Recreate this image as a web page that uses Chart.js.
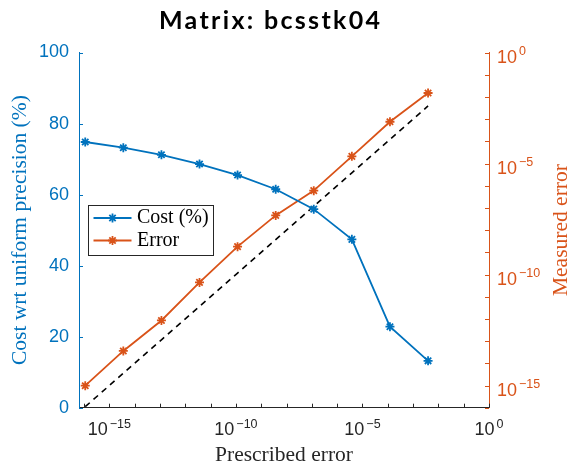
<!DOCTYPE html>
<html>
<head>
<meta charset="utf-8">
<title>Matrix: bcsstk04</title>
<script src="https://cdn.jsdelivr.net/npm/chart.js@4/dist/chart.umd.min.js"></script>
<style>
    html, body { margin: 0; padding: 0; background: #fff; }
    #wrap { width: 570px; height: 465px; }
</style>
</head>
<body>
<div id="wrap"><canvas id="myChart" width="570" height="465"></canvas></div>
<script>
(function () {
    'use strict';

    // prescribed error (x), powers of two from 2^-53 to 2^-8
    var prescribedError = [1.11e-16, 3.55e-15, 1.14e-13, 3.64e-12, 1.16e-10, 3.73e-9, 1.19e-7, 3.81e-6, 1.22e-4, 3.91e-3];
    var costPercent = [74.8, 73.2, 71.2, 68.6, 65.5, 61.5, 55.9, 47.4, 22.8, 13.2];
    var measuredError = [9.8e-16, 3.6e-14, 8.5e-13, 4.4e-11, 1.8e-9, 4.6e-8, 6.0e-7, 2.1e-5, 7.6e-4, 1.5e-2];

    var costTicks = [0, 20, 40, 60, 80, 100];
    var decadeTicks = [-16, -15, -14, -13, -12, -11, -10, -9, -8, -7, -6, -5, -4, -3, -2, -1, 0];
    var labeledDecades = [-15, -10, -5, 0];

    var BLUE = '#0072BD';
    var ORANGE = '#D95319';
    var AXIS = '#262626';
    var SERIF = '"Liberation Serif", "Times New Roman", serif';
    var SANS = '"Liberation Sans", Arial, sans-serif';

    function points(xs, ys) {
        return xs.map(function (x, i) {
            return { x: x, y: ys[i] };
        });
    }

    function decades() {
        return decadeTicks.map(function (e) {
            return { value: Math.pow(10, e) };
        });
    }

    function drawPower(ctx, exp, x, y, align, color) {
        ctx.fillStyle = color;
        ctx.textBaseline = 'alphabetic';
        ctx.textAlign = 'left';
        ctx.font = '18px ' + SANS;
        var w1 = ctx.measureText('10').width;
        var sup = (exp < 0 ? '\u2212' : '') + Math.abs(exp);
        ctx.font = '12.5px ' + SANS;
        var w2 = ctx.measureText(sup).width;
        var left = align === 'center' ? x - (w1 + 2 + w2) / 2 : x;
        ctx.font = '18px ' + SANS;
        ctx.fillText('10', left, y);
        ctx.font = '12.5px ' + SANS;
        ctx.fillText(sup, left + w1 + 2, y - 7.5);
    }

    var decorPlugin = {
        id: 'decor',
        afterDraw: function (chart) {
            var ctx = chart.ctx;
            var area = chart.chartArea;
            var xs = chart.scales.x;
            var yl = chart.scales.y;
            var yr = chart.scales.y2;

            ctx.save();
            ctx.lineWidth = 1;

            // inward tick marks
            ctx.strokeStyle = BLUE;
            costTicks.forEach(function (v) {
                var py = Math.round(yl.getPixelForValue(v)) + 0.5;
                ctx.beginPath();
                ctx.moveTo(area.left, py);
                ctx.lineTo(area.left + 4, py);
                ctx.stroke();
            });
            ctx.strokeStyle = AXIS;
            decadeTicks.forEach(function (e) {
                var px = Math.round(xs.getPixelForValue(Math.pow(10, e))) + 0.5;
                ctx.beginPath();
                ctx.moveTo(px, area.bottom);
                ctx.lineTo(px, area.bottom - 4);
                ctx.stroke();
            });
            ctx.strokeStyle = ORANGE;
            decadeTicks.forEach(function (e) {
                var py = Math.round(yr.getPixelForValue(Math.pow(10, e))) + 0.5;
                ctx.beginPath();
                ctx.moveTo(area.right, py);
                ctx.lineTo(area.right - 4, py);
                ctx.stroke();
            });

            // log tick labels with superscripts
            labeledDecades.forEach(function (e) {
                var px = xs.getPixelForValue(Math.pow(10, e));
                drawPower(ctx, e, px, area.bottom + 27.5, 'center', AXIS);
                var py = yr.getPixelForValue(Math.pow(10, e));
                drawPower(ctx, e, area.right + 8, py + 10, 'left', ORANGE);
            });

            // title, spaced out to the width of the original
            var title = 'Matrix: bcsstk04';
            ctx.fillStyle = '#000';
            ctx.font = 'bold 25px Lato, ' + SANS;
            ctx.textAlign = 'left';
            ctx.textBaseline = 'alphabetic';
            var tw = ctx.measureText(title).width;
            var spacing = Math.max(0, (221 - tw) / (title.length - 1));
            if ('letterSpacing' in ctx) {
                ctx.letterSpacing = spacing + 'px';
            }
            ctx.fillText(title, 159, 28.5);
            if ('letterSpacing' in ctx) {
                ctx.letterSpacing = '0px';
            }

            // right axis title
            ctx.save();
            ctx.translate(561, (area.top + area.bottom) / 2);
            ctx.rotate(-Math.PI / 2);
            ctx.fillStyle = ORANGE;
            ctx.font = '21.5px ' + SERIF;
            ctx.textAlign = 'center';
            ctx.textBaseline = 'middle';
            ctx.fillText('Measured error', 0, 0);
            ctx.restore();

            // legend box
            var lx = area.left + 9.5;
            var ly = 205.5;
            ctx.fillStyle = '#fff';
            ctx.fillRect(lx, ly, 125, 50);
            ctx.strokeStyle = AXIS;
            ctx.lineWidth = 1;
            ctx.strokeRect(lx, ly, 125, 50);

            chart.data.datasets.slice(0, 2).forEach(function (ds, i) {
                var ry = ly + 12.5 + i * 22.5;
                ctx.strokeStyle = ds.borderColor;
                ctx.fillStyle = ds.borderColor;
                ctx.lineWidth = ds.borderWidth;
                ctx.setLineDash([]);
                ctx.beginPath();
                ctx.moveTo(lx + 5, ry);
                ctx.lineTo(lx + 43, ry);
                ctx.stroke();
                Chart.helpers.drawPoint(ctx, {
                    pointStyle: 'star',
                    radius: ds.pointRadius,
                    borderWidth: ds.pointBorderWidth,
                    rotation: 0
                }, lx + 24, ry);
                ctx.fillStyle = '#000';
                ctx.font = '20px ' + SERIF;
                ctx.textAlign = 'left';
                ctx.textBaseline = 'middle';
                ctx.fillText(ds.label, lx + 48.5, ry);
            });

            ctx.restore();
        }
    };

    new Chart(document.getElementById('myChart'), {
        type: 'line',
        data: {
            datasets: [
                {
                    label: 'Cost (%)',
                    data: points(prescribedError, costPercent),
                    yAxisID: 'y',
                    borderColor: BLUE,
                    backgroundColor: BLUE,
                    borderWidth: 1.8,
                    pointStyle: 'star',
                    pointRadius: 4.5,
                    pointBorderWidth: 1.8,
                    pointBorderColor: BLUE,
                    pointBackgroundColor: BLUE,
                    tension: 0
                },
                {
                    label: 'Error',
                    data: points(prescribedError, measuredError),
                    yAxisID: 'y2',
                    borderColor: ORANGE,
                    backgroundColor: ORANGE,
                    borderWidth: 1.8,
                    pointStyle: 'star',
                    pointRadius: 4.5,
                    pointBorderWidth: 1.8,
                    pointBorderColor: ORANGE,
                    pointBackgroundColor: ORANGE,
                    tension: 0
                },
                {
                    label: 'y = x',
                    data: points(prescribedError, prescribedError),
                    yAxisID: 'y2',
                    borderColor: '#000',
                    borderWidth: 1.6,
                    borderDash: [6, 5],
                    pointRadius: 0,
                    tension: 0
                }
            ]
        },
        options: {
            responsive: false,
            animation: false,
            events: [],
            layout: {
                padding: { top: 52.5, left: 0, right: 0, bottom: 0 }
            },
            plugins: {
                legend: { display: false },
                title: { display: false },
                tooltip: { enabled: false }
            },
            scales: {
                x: {
                    type: 'logarithmic',
                    position: 'bottom',
                    min: 6.3e-17,
                    max: 1,
                    afterBuildTicks: function (scale) {
                        scale.ticks = decades();
                    },
                    afterFit: function (scale) {
                        scale.height = 57.3;
                    },
                    ticks: { display: false },
                    grid: { display: false, drawTicks: false },
                    border: { display: true, color: AXIS, width: 1 },
                    title: {
                        display: true,
                        text: 'Prescribed error',
                        color: AXIS,
                        font: { family: SERIF, size: 21.5 },
                        padding: { top: 0, bottom: -3 }
                    }
                },
                y: {
                    type: 'linear',
                    position: 'left',
                    min: 0,
                    max: 100,
                    afterBuildTicks: function (scale) {
                        scale.ticks = costTicks.map(function (v) {
                            return { value: v };
                        });
                    },
                    afterFit: function (scale) {
                        scale.width = 79;
                    },
                    ticks: {
                        color: BLUE,
                        padding: 10,
                        font: { family: SANS, size: 18 }
                    },
                    grid: { display: false, drawTicks: false },
                    border: { display: true, color: BLUE, width: 1 },
                    title: {
                        display: true,
                        text: 'Cost wrt uniform precision (%)',
                        color: BLUE,
                        font: { family: SERIF, size: 21.5 },
                        padding: { top: 7.6, bottom: 0 }
                    }
                },
                y2: {
                    type: 'logarithmic',
                    position: 'right',
                    min: 1e-16,
                    max: 1,
                    afterBuildTicks: function (scale) {
                        scale.ticks = decades();
                    },
                    afterFit: function (scale) {
                        scale.width = 81;
                    },
                    ticks: { display: false },
                    grid: { display: false, drawTicks: false },
                    border: { display: true, color: ORANGE, width: 1 }
                }
            }
        },
        plugins: [decorPlugin]
    });
})();
</script>
</body>
</html>
